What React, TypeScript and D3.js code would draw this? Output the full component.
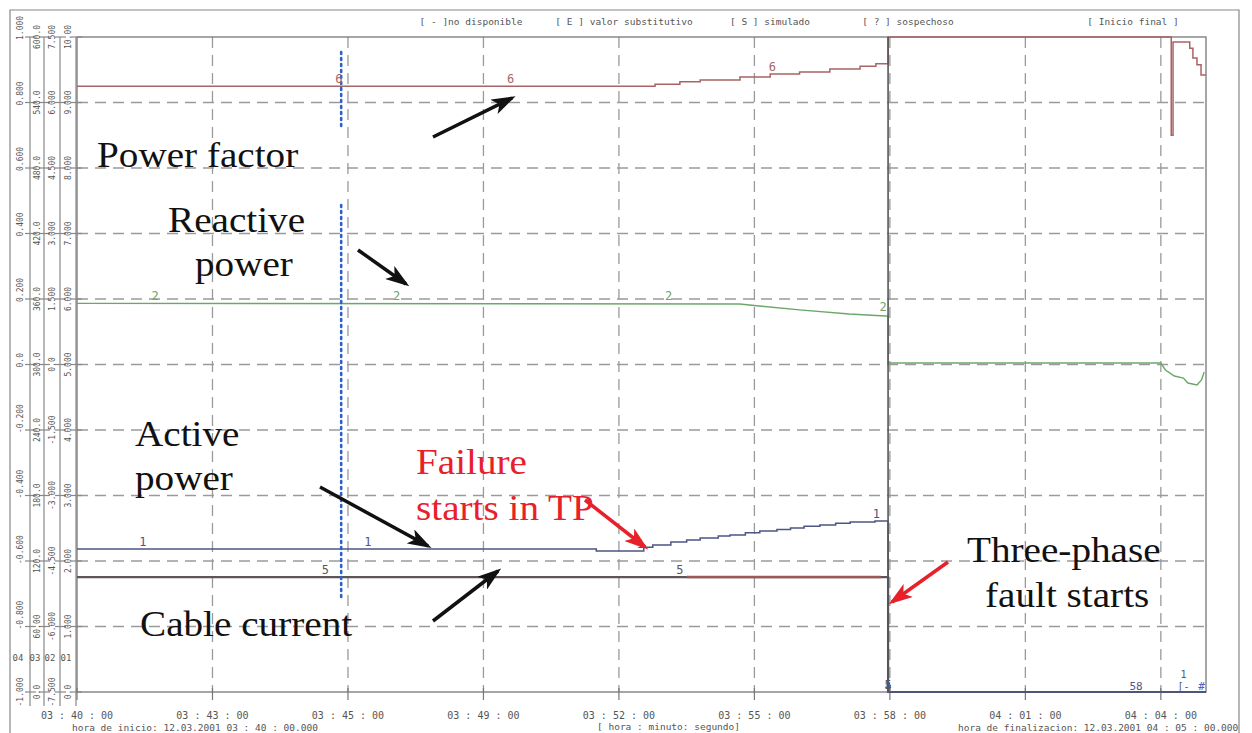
import React from "react";
import * as d3 from "d3";

// ---------- data ----------
const timeTickMinutes = [0, 3, 6, 9, 12, 15, 18, 21, 24];
const timeTickLabels = [
  "03 : 40 : 00", "03 : 43 : 00", "03 : 45 : 00", "03 : 49 : 00", "03 : 52 : 00",
  "03 : 55 : 00", "03 : 58 : 00", "04 : 01 : 00", "04 : 04 : 00",
];
const axisIds = ["04", "03", "02", "01"];
const axis04Labels = ["-1.000", "-0.800", "-0.600", "-0.400", "-0.200", "0.0", "0.200", "0.400", "0.600", "0.800", "1.000"];
const axis03Labels = ["0.0", "60.00", "120.0", "180.0", "240.0", "300.0", "360.0", "420.0", "480.0", "540.0", "600.0"];
const axis02Labels = ["-7.500", "-6.000", "-4.500", "-3.000", "-1.500", "0.0", "1.500", "3.000", "4.500", "6.000", "7.500"];
const axis01Labels = ["0.0", "1.000", "2.000", "3.000", "4.000", "5.000", "6.000", "7.000", "8.000", "9.000", "10.00"];
const axisDomains: [number, number][] = [[-1, 1], [0, 600], [-7.5, 7.5], [0, 10]];

const legendItems = ["[ - ]no disponible", "[ E ] valor substitutivo", "[ S ] simulado", "[ ? ] sospechoso", "[ Inicio  final ]"];

// power factor (axis 04), minutes since 03:40
const pfTime = [0, 12.8, 13.35, 13.8, 14.68, 15.35, 16.0, 16.67, 17.34, 17.69, 17.96, 24.23, 24.27, 24.64, 24.71, 24.8, 24.89, 25];
const pfValue = [0.85, 0.856, 0.863, 0.869, 0.878, 0.887, 0.893, 0.902, 0.911, 0.918, 1.0, 0.70, 0.985, 0.966, 0.936, 0.915, 0.884, 0.884];

// reactive power (axis 02)
const qTime = [0, 14.68, 15.1, 16.0, 17.1, 17.9, 17.96, 17.96, 24.0, 24.1, 24.3, 24.5, 24.6, 24.8, 24.9, 24.96];
const qValue = [1.40, 1.385, 1.34, 1.25, 1.156, 1.11, 1.11, 0.034, 0.034, -0.126, -0.263, -0.31, -0.424, -0.47, -0.355, -0.17];

// active power (axis 01)
const pTime = [0, 11.5, 12.55, 12.75, 13.15, 13.5, 13.8, 14.2, 14.46, 14.8, 15.12, 15.5, 15.8, 16.1, 16.45, 16.8, 17.12, 17.67, 17.96, 25];
const pValue = [2.183, 2.153, 2.21, 2.244, 2.29, 2.32, 2.351, 2.38, 2.397, 2.43, 2.458, 2.48, 2.504, 2.53, 2.55, 2.575, 2.595, 2.61, 0, 0];

// cable current (axis 03)
const iTime = [0, 17.96, 25];
const iValue = [105.3, 0, 0];
const iHighlightTime = [13.5, 17.8];

const eventTime = 17.96;
const markerTime = 5.85;
const markerSegments: [number, number][] = [[0.954, 0.722], [0.487, -0.713]];

const seriesLabels = [
  { text: "6", s: "pf", t: [5.8, 9.6, 15.4] },
  { text: "2", s: "q", t: [1.73, 7.08, 13.1, 17.85] },
  { text: "1", s: "p", t: [1.46, 6.44, 12.47, 17.7] },
  { text: "5", s: "i", t: [5.5, 13.35, 17.96] },
];

// ---------- layout ----------
const W = 1252, H = 733;
const L = 77, R = 1206, T = 37, B = 692;
const axisLineX = [30, 44, 60, 76];
const axisLabelX = [20, 37, 52, 68];
const mono = "'DejaVu Sans Mono', 'Liberation Mono', monospace";
const serif = "'Liberation Serif', 'DejaVu Serif', serif";
const C = { pf: "#a86464", q: "#6aa86a", p: "#4c5684", i: "#5e5656", grid: "#9a9a9a", txt: "#555" };

export default function App() {
  const x = d3.scaleLinear().domain([0, 25]).range([L, R]);
  const ys = axisDomains.map((d) => d3.scaleLinear().domain(d).range([B, T]));
  const [y04, y03, y02, y01] = ys;
  const labels = [axis04Labels, axis03Labels, axis02Labels, axis01Labels];

  const series: Record<string, { t: number[]; v: number[]; y: d3.ScaleLinear<number, number>; curve: any; color: string }> = {
    pf: { t: pfTime, v: pfValue, y: y04, curve: d3.curveStepAfter, color: C.pf },
    q: { t: qTime, v: qValue, y: y02, curve: d3.curveLinear, color: C.q },
    p: { t: pTime, v: pValue, y: y01, curve: d3.curveStepAfter, color: C.p },
    i: { t: iTime, v: iValue, y: y03, curve: d3.curveStepAfter, color: C.i },
  };
  const pathFor = (k: string) => {
    const s = series[k];
    const pts = s.t.map((t, j) => [t, s.v[j]] as [number, number]);
    return d3.line<[number, number]>().x((d) => x(d[0])).y((d) => s.y(d[1])).curve(s.curve)(pts) || "";
  };
  const valueAt = (k: string, t: number) => {
    const s = series[k];
    const idx = Math.max(0, d3.bisectRight(s.t, t) - 1);
    return s.v[Math.min(idx, s.v.length - 1)];
  };

  const gridYs = d3.range(1, 10).map((i) => B - (i * (B - T)) / 10);

  const arrow = (x1: number, y1: number, x2: number, y2: number, red = false) => (
    <line x1={x1} y1={y1} x2={x2} y2={y2} stroke={red ? "#e8202a" : "#111"} strokeWidth={3.5}
      markerEnd={red ? "url(#ahRed)" : "url(#ahBlack)"} />
  );
  const note = (s: string, tx: number, ty: number, red = false) => (
    <text transform={`translate(${tx},${ty}) scale(1.12,1)`} fill={red ? "#e8202a" : "#111"}>{s}</text>
  );

  return (
    <svg width={W} height={H} style={{ position: "absolute", left: 0, top: 0, background: "#fff" }}>
      <defs>
        <marker id="ahBlack" markerUnits="userSpaceOnUse" markerWidth={24} markerHeight={16} refX={20} refY={8} orient="auto">
          <path d="M0,0 L24,8 L0,16 L6,8 z" fill="#111" />
        </marker>
        <marker id="ahRed" markerUnits="userSpaceOnUse" markerWidth={24} markerHeight={16} refX={20} refY={8} orient="auto">
          <path d="M0,0 L24,8 L0,16 L6,8 z" fill="#e8202a" />
        </marker>
      </defs>

      {/* page frame */}
      <path d={`M10,${H + 5} L10,10 L1239,10 L1239,${H + 5}`} fill="none" stroke="#888" strokeWidth={1.2} />

      {/* header legend */}
      {legendItems.map((s, k) => (
        <text key={s} x={[471, 624, 770, 908, 1133][k]} y={25} fontFamily={mono} fontSize={9.5} fill={C.txt} textAnchor="middle">{s}</text>
      ))}

      {/* grid */}
      {gridYs.map((gy, k) => (
        <line key={"gy" + k} x1={L} x2={R} y1={gy} y2={gy} stroke={C.grid} strokeWidth={1.3} strokeDasharray="11,7" />
      ))}
      {timeTickMinutes.slice(1).map((t) => (
        <line key={"gx" + t} x1={x(t)} x2={x(t)} y1={T} y2={B} stroke={C.grid} strokeWidth={1.3} strokeDasharray="11,7" />
      ))}

      {/* plot frame */}
      <rect x={L} y={T} width={R - L} height={B - T} fill="none" stroke="#777" strokeWidth={1.3} />

      {/* left axes */}
      {axisIds.map((id, a) => (
        <g key={id}>
          <line x1={axisLineX[a]} x2={axisLineX[a]} y1={T} y2={706} stroke="#888" strokeWidth={1.2} />
          {labels[a].map((lab, k) => {
            const v = axisDomains[a][0] + (k * (axisDomains[a][1] - axisDomains[a][0])) / 10;
            const ty = ys[a](v);
            const isFirst = a === 0;
            return (
              <g key={lab + k}>
                <line x1={axisLineX[a] - 5} x2={axisLineX[a] + 6} y1={ty} y2={ty} stroke="#888" strokeWidth={1.2} />
                <text transform={`translate(${axisLabelX[a]},${isFirst && k > 0 ? ty + 3 : ty}) rotate(-90)`}
                  textAnchor={isFirst && k > 0 ? "start" : "middle"} dominantBaseline="middle"
                  fontFamily={mono} fontSize={8} fill={C.txt}>{lab}</text>
              </g>
            );
          })}
          <text x={axisLabelX[a] - 2} y={661} fontFamily={mono} fontSize={9} fill={C.txt} textAnchor="middle">{id}</text>
        </g>
      ))}

      {/* bottom axis */}
      {timeTickMinutes.map((t, k) => (
        <g key={"tx" + t}>
          <line x1={x(t)} x2={x(t)} y1={B - 4} y2={B + 8} stroke="#777" strokeWidth={1.2} />
          <text x={x(t)} y={719} fontFamily={mono} fontSize={10} fill={C.txt} textAnchor="middle">{timeTickLabels[k]}</text>
        </g>
      ))}
      <text x={72} y={731} fontFamily={mono} fontSize={9.5} fill={C.txt}>hora de inicio: 12.03.2001  03 : 40 : 00.000</text>
      <text x={597} y={730} fontFamily={mono} fontSize={9.5} fill={C.txt}>[ hora : minuto: segundo]</text>
      <text x={958} y={731} fontFamily={mono} fontSize={9.5} fill={C.txt}>hora de finalizacion: 12.03.2001  04 : 05 : 00.000</text>

      {/* series */}
      <path d={pathFor("i")} fill="none" stroke={C.i} strokeWidth={2.2} />
      <line x1={x(iHighlightTime[0])} x2={x(iHighlightTime[1])} y1={y03(iValue[0])} y2={y03(iValue[0])} stroke="#9a5a5a" strokeWidth={2.6} />
      <path d={pathFor("q")} fill="none" stroke={C.q} strokeWidth={1.4} />
      <path d={pathFor("p")} fill="none" stroke={C.p} strokeWidth={1.5} />
      <path d={pathFor("pf")} fill="none" stroke={C.pf} strokeWidth={1.5} />
      <line x1={x(eventTime)} x2={x(eventTime)} y1={T} y2={B} stroke="#555" strokeWidth={1.6} />

      {/* blue dotted marker */}
      {markerSegments.map((seg, k) => (
        <line key={"m" + k} x1={x(markerTime)} x2={x(markerTime)} y1={y04(seg[0])} y2={y04(seg[1])}
          stroke="#2d62c8" strokeWidth={2.6} strokeDasharray="2,4" strokeLinecap="round" />
      ))}

      {/* series labels */}
      {seriesLabels.map((sl) =>
        sl.t.map((t) => (
          <text key={sl.s + t} x={x(t)} y={series[sl.s].y(valueAt(sl.s, t)) - 3} fontFamily={mono} fontSize={12}
            fill={series[sl.s].color} textAnchor="middle">{sl.text}</text>
        ))
      )}
      <text x={x(eventTime)} y={B - 2} fontFamily={mono} fontSize={11} fill={C.p} textAnchor="middle">4</text>
      <text x={x(23.45)} y={B - 2} fontFamily={mono} fontSize={11} fill={C.p} textAnchor="middle">58</text>
      <text x={x(24.5)} y={B - 14} fontFamily={mono} fontSize={10} fill={C.p} textAnchor="middle">1</text>
      <text x={x(24.5)} y={B - 2} fontFamily={mono} fontSize={10} fill={C.p} textAnchor="middle">[-</text>
      <text x={x(24.9)} y={B - 2} fontFamily={mono} fontSize={11} fill="#5060c0" textAnchor="middle">#</text>

      {/* annotations */}
      <g fontFamily={serif} fontSize={35}>
        {note("Power factor", 97, 167)}
        {note("Reactive", 168, 232)}
        {note("power", 195, 276)}
        {note("Active", 135, 446)}
        {note("power", 135, 490)}
        {note("Cable current", 140, 636)}
        {note("Three-phase", 967, 562)}
        {note("fault starts", 985, 607)}
        {note("Failure", 416, 474, true)}
        {note("starts in TP", 416, 520, true)}
      </g>
      {arrow(433, 137, 512, 98)}
      {arrow(358, 250, 406, 284)}
      {arrow(320, 487, 428, 546)}
      {arrow(433, 621, 498, 571)}
      {arrow(585, 500, 645, 547, true)}
      {arrow(948, 562, 892, 602, true)}
    </svg>
  );
}
